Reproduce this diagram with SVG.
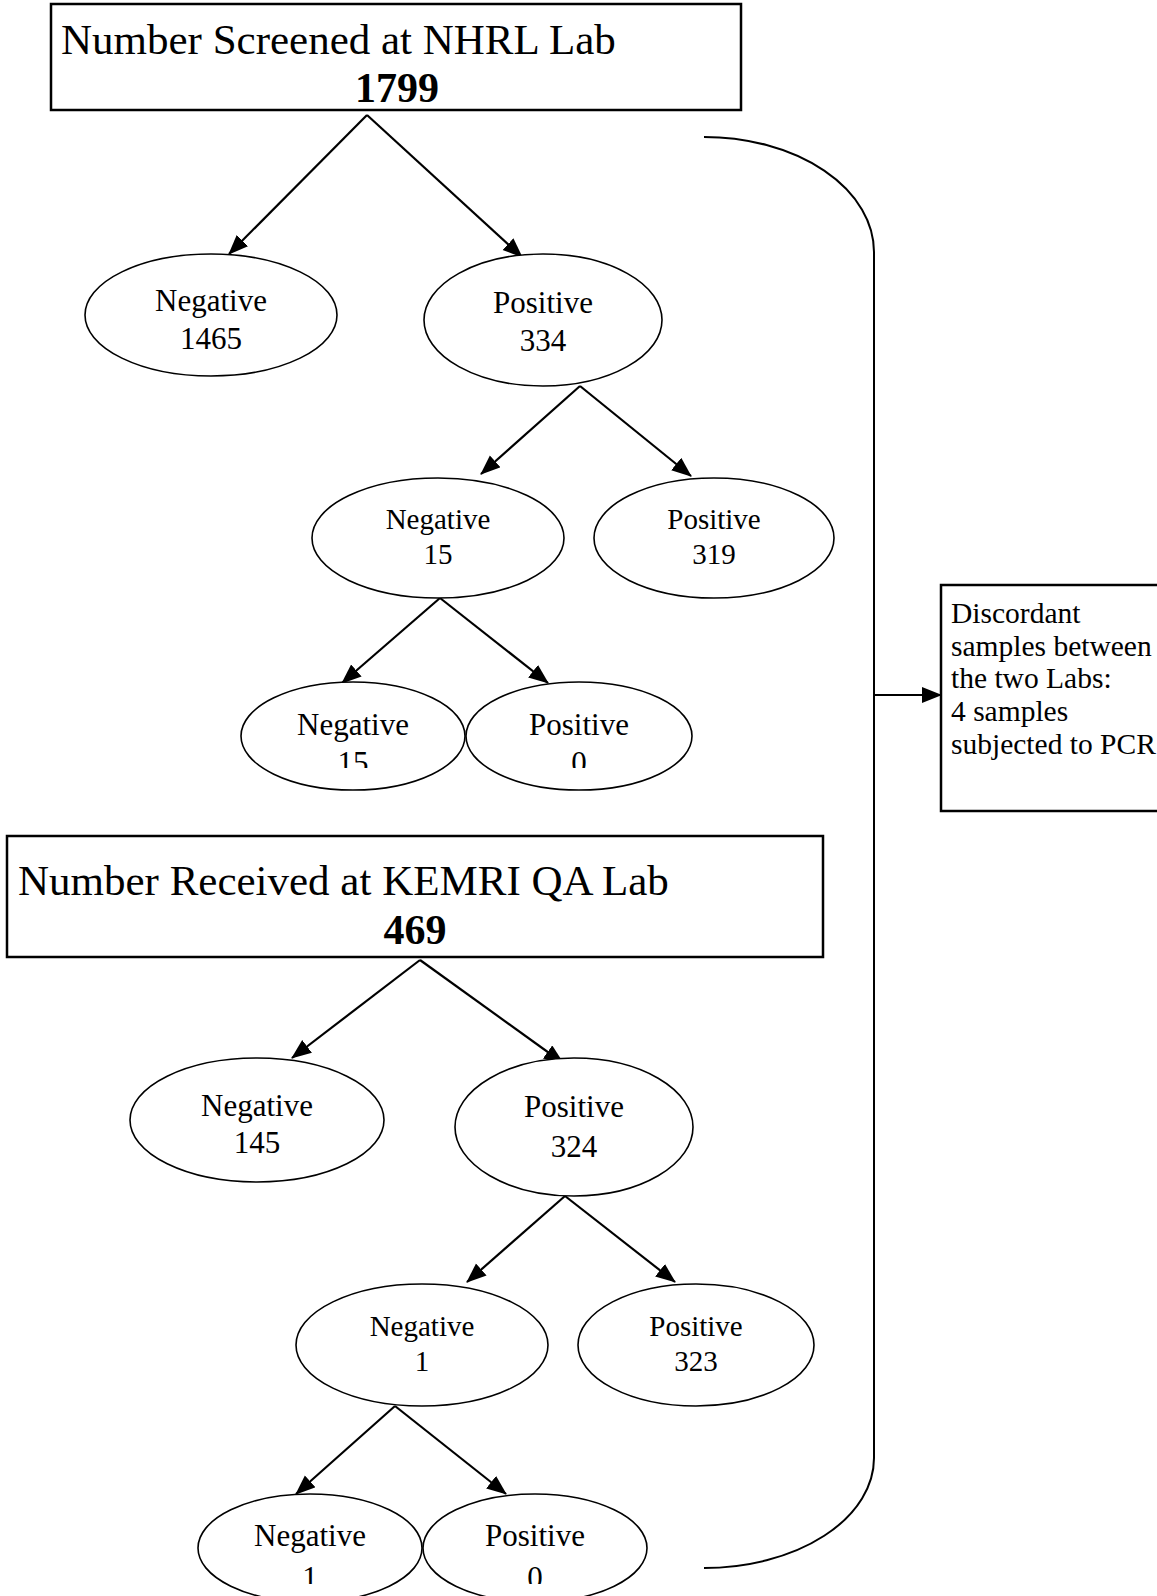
<svg xmlns="http://www.w3.org/2000/svg" width="1157" height="1596" viewBox="0 0 1157 1596">
<style>
text{font-family:"Liberation Serif","Times New Roman",serif;fill:#000}
.title{font-size:43px}
.num{font-size:42px;font-weight:bold;text-anchor:middle}
.l1{font-size:31px;text-anchor:middle}
.l2{font-size:29px;text-anchor:middle}
.note{font-size:29.5px}
.box{fill:#fff;stroke:#000;stroke-width:2.5}
.ell{fill:#fff;stroke:#000;stroke-width:1.6}
.conn{fill:none;stroke:#000;stroke-width:2.2}
.brace{fill:none;stroke:#000;stroke-width:2}
</style>
<defs>
<marker id="ah" markerUnits="userSpaceOnUse" markerWidth="22" markerHeight="18" refX="19" refY="8" orient="auto">
<path d="M0,0 L20,8 L0,16 Z" fill="#000"/>
</marker>
<clipPath id="clipA"><rect x="0" y="0" width="1157" height="768"/></clipPath>
<clipPath id="clipB"><rect x="0" y="0" width="1157" height="1584"/></clipPath>
</defs>

<g id="connectors">
<path class="conn" d="M367,115 L229,254" marker-end="url(#ah)"/>
<path class="conn" d="M367,115 L522,257" marker-end="url(#ah)"/>
<path class="conn" d="M580,386 L481,474" marker-end="url(#ah)"/>
<path class="conn" d="M580,386 L691,476" marker-end="url(#ah)"/>
<path class="conn" d="M440,598 L342,683" marker-end="url(#ah)"/>
<path class="conn" d="M440,598 L548,683" marker-end="url(#ah)"/>
<path class="conn" d="M420,960 L292,1058" marker-end="url(#ah)"/>
<path class="conn" d="M420,960 L563,1063" marker-end="url(#ah)"/>
<path class="conn" d="M565,1196 L467,1282" marker-end="url(#ah)"/>
<path class="conn" d="M565,1196 L675,1282" marker-end="url(#ah)"/>
<path class="conn" d="M395,1406 L296,1494" marker-end="url(#ah)"/>
<path class="conn" d="M395,1406 L506,1494" marker-end="url(#ah)"/>
<path class="brace" d="M704,137 A170,115 0 0 1 874,252 V1458 A170,110 0 0 1 704,1568"/>
<path class="conn" d="M874,695 H941" marker-end="url(#ah)"/>
</g>

<g id="nhrl">
<rect class="box" x="51" y="4" width="690" height="106"/>
<text class="title" x="61" y="54">Number Screened at NHRL Lab</text>
<text class="num" x="397" y="102">1799</text>
</g>

<g id="nhrl-neg">
<ellipse class="ell" cx="211" cy="315" rx="126" ry="61"/>
<text class="l1" x="211" y="311">Negative</text>
<text class="l1" x="211" y="349">1465</text>
</g>
<g id="nhrl-pos">
<ellipse class="ell" cx="543" cy="320" rx="119" ry="66"/>
<text class="l1" x="543" y="313">Positive</text>
<text class="l1" x="543" y="351">334</text>
</g>
<g id="nhrl-pos-neg">
<ellipse class="ell" cx="438" cy="538" rx="126" ry="60"/>
<text class="l2" x="438" y="529">Negative</text>
<text class="l2" x="438" y="564">15</text>
</g>
<g id="nhrl-pos-pos">
<ellipse class="ell" cx="714" cy="538" rx="120" ry="60"/>
<text class="l2" x="714" y="529">Positive</text>
<text class="l2" x="714" y="564">319</text>
</g>
<g id="nhrl-pos-neg-neg">
<ellipse class="ell" cx="353" cy="736" rx="112" ry="54"/>
<text class="l1" x="353" y="735">Negative</text>
<text class="l1" x="353" y="773" clip-path="url(#clipA)">15</text>
</g>
<g id="nhrl-pos-neg-pos">
<ellipse class="ell" cx="579" cy="736" rx="113" ry="54"/>
<text class="l1" x="579" y="735">Positive</text>
<text class="l1" x="579" y="773" clip-path="url(#clipA)">0</text>
</g>

<g id="discordant">
<rect class="box" x="941" y="585" width="230" height="226"/>
<text class="note" x="951" y="623">Discordant</text>
<text class="note" x="951" y="656">samples between</text>
<text class="note" x="951" y="688">the two Labs:</text>
<text class="note" x="951" y="721">4 samples</text>
<text class="note" x="951" y="754">subjected to PCR</text>
</g>

<g id="kemri">
<rect class="box" x="7" y="836" width="816" height="121"/>
<text class="title" x="18" y="895">Number Received at KEMRI QA Lab</text>
<text class="num" x="415" y="944">469</text>
</g>

<g id="kemri-neg">
<ellipse class="ell" cx="257" cy="1120" rx="127" ry="62"/>
<text class="l1" x="257" y="1116">Negative</text>
<text class="l1" x="257" y="1153">145</text>
</g>
<g id="kemri-pos">
<ellipse class="ell" cx="574" cy="1127" rx="119" ry="69"/>
<text class="l1" x="574" y="1117">Positive</text>
<text class="l1" x="574" y="1157">324</text>
</g>
<g id="kemri-pos-neg">
<ellipse class="ell" cx="422" cy="1345" rx="126" ry="61"/>
<text class="l2" x="422" y="1336">Negative</text>
<text class="l2" x="422" y="1371">1</text>
</g>
<g id="kemri-pos-pos">
<ellipse class="ell" cx="696" cy="1345" rx="118" ry="61"/>
<text class="l2" x="696" y="1336">Positive</text>
<text class="l2" x="696" y="1371">323</text>
</g>
<g id="kemri-pos-neg-neg">
<ellipse class="ell" cx="310" cy="1548" rx="112" ry="54"/>
<text class="l1" x="310" y="1546">Negative</text>
<text class="l1" x="310" y="1588" clip-path="url(#clipB)">1</text>
</g>
<g id="kemri-pos-neg-pos">
<ellipse class="ell" cx="535" cy="1548" rx="112" ry="54"/>
<text class="l1" x="535" y="1546">Positive</text>
<text class="l1" x="535" y="1588" clip-path="url(#clipB)">0</text>
</g>
</svg>
